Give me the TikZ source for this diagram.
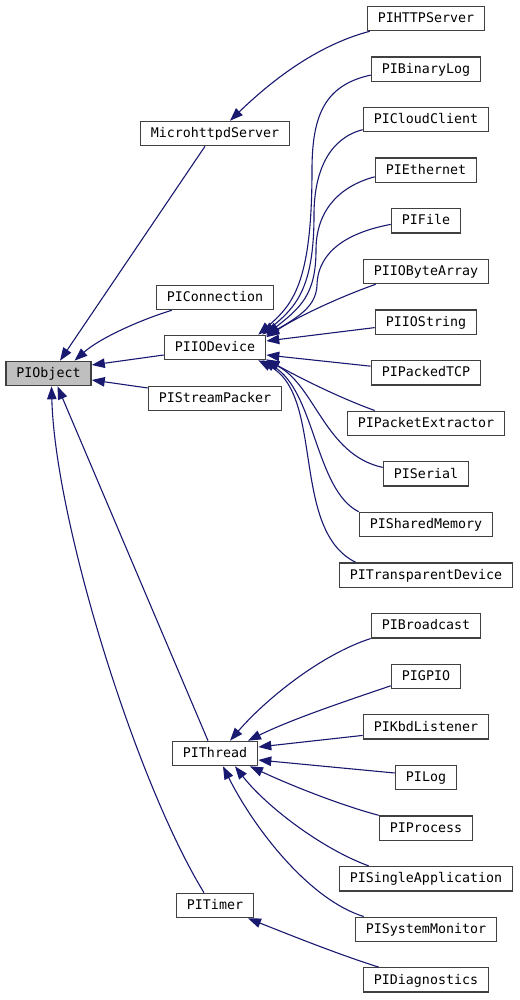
\documentclass[tikz,border=0pt]{standalone}
\usepackage{fontspec}
\setmonofont{DejaVu Sans Mono}
\usepackage{xcolor}
\definecolor{edgeblue}{HTML}{191970}
\definecolor{boxgray}{HTML}{404040}
\definecolor{objgray}{HTML}{BFBFBF}
\usepackage{tikz}
\usetikzlibrary{shapes,arrows.meta,positioning}

\begin{document}
\begin{tikzpicture}[
        x=1pt, y=-1pt,
        node distance=25pt,
        box/.style={rectangle, draw=boxgray, fill=white, line width=1.3pt, font=\ttfamily\fontsize{13.3}{16}\selectfont, minimum height=24.3pt, inner xsep=10.6pt, text height=9.7pt, text depth=1.5pt},
        arrow/.style={-{Triangle[length=13pt, width=9.5pt]}, draw=edgeblue, line width=1.1pt}
    ]
        \useasboundingbox (0,0) rectangle (519,1000);

        \node[box] (httpserver) at (426,18.5) {PIHTTPServer};
        \node[box, below=of httpserver] (binarylog) {PIBinaryLog};
        \node[box, below=of binarylog] (cloudclient) {PICloudClient};
        \node[box, below=of cloudclient] (ethernet) {PIEthernet};
        \node[box, below=of ethernet] (file) {PIFile};
        \node[box, below=of file] (iobytearray) {PIIOByteArray};
        \node[box, below=of iobytearray] (iostring) {PIIOString};
        \node[box, below=of iostring] (packedtcp) {PIPackedTCP};
        \node[box, below=of packedtcp] (packetextractor) {PIPacketExtractor};
        \node[box, below=of packetextractor] (serial) {PISerial};
        \node[box, below=of serial] (sharedmemory) {PISharedMemory};
        \node[box, below=of sharedmemory] (transparentdevice) {PITransparentDevice};
        \node[box, below=of transparentdevice] (broadcast) {PIBroadcast};
        \node[box, below=of broadcast] (gpio) {PIGPIO};
        \node[box, below=of gpio] (kbdlistener) {PIKbdListener};
        \node[box, below=of kbdlistener] (log) {PILog};
        \node[box, below=of log] (process) {PIProcess};
        \node[box, below=of process] (singleapp) {PISingleApplication};
        \node[box, below=of singleapp] (sysmonitor) {PISystemMonitor};
        \node[box, below=of sysmonitor] (diagnostics) {PIDiagnostics};

        \node[box] (microhttpd) at (215,133.5) {MicrohttpdServer};
        \node[box] (connection) at (215,297.5) {PIConnection};
        \node[box] (iodevice) at (215,347.5) {PIIODevice};
        \node[box] (streampacker) at (215,398.5) {PIStreamPacker};
        \node[box] (thread) at (215,753.5) {PIThread};
        \node[box] (timer) at (215,905.5) {PITimer};
        \node[box, fill=objgray] (object) at (48.5,373.5) {PIObject};

        \draw[arrow] ([xshift=3pt]httpserver.south west) .. controls (310,47) and (262,90) .. ([xshift=15pt]microhttpd.north);
        \draw[arrow] ([xshift=-10pt]microhttpd.south) -- ([xshift=11.5pt]object.north);
        \draw[arrow] ([xshift=16pt]connection.south west) .. controls (140,320) and (100,338) .. ([xshift=26pt]object.north);
        \draw[arrow] ([yshift=-7.5pt]iodevice.west) -- ([yshift=8.5pt]object.east);
        \draw[arrow] ([yshift=10.5pt]streampacker.west) -- ([yshift=-6.5pt]object.east);
        \draw[arrow] ([xshift=-7pt]thread.north) -- ([xshift=9pt]object.south);
        \draw[arrow] ([xshift=-11pt]timer.north) .. controls (135,780) and (55,520) .. ([xshift=3pt]object.south);

        \draw[arrow] ([yshift=-6pt]binarylog.west) .. controls (325,85) and (312,115) .. (312,170) .. controls (312,285) and (292,305) .. ([xshift=-8pt]iodevice.north east);
        \draw[arrow] ([yshift=-10pt]cloudclient.west) .. controls (330,138) and (314,170) .. (314,215) .. controls (314,288) and (296,307) .. ([xshift=-4pt]iodevice.north east);
        \draw[arrow] ([yshift=-6.5pt]ethernet.west) .. controls (340,186) and (316,210) .. (316,250) .. controls (316,295) and (300,308) .. (iodevice.north east);
        \draw[arrow] ([yshift=-3.5pt]file.west) .. controls (350,232) and (318,250) .. (317,285) .. controls (316,305) and (302,315) .. ([yshift=-1pt]iodevice.north east);
        \draw[arrow] ([xshift=13pt]iobytearray.south west) .. controls (345,295) and (300,315) .. ([yshift=-2.5pt]iodevice.north east);
        \draw[arrow] ([yshift=-5.5pt]iostring.west) -- ([yshift=6.5pt]iodevice.east);
        \draw[arrow] ([yshift=6.5pt]packedtcp.west) -- ([yshift=-7.5pt]iodevice.east);
        \draw[arrow] ([xshift=28pt]packetextractor.north west) .. controls (340,398) and (300,378) .. ([yshift=1pt]iodevice.south east);
        \draw[arrow] ([yshift=6.5pt]serial.west) .. controls (325,455) and (315,385) .. (iodevice.south east);
        \draw[arrow] (sharedmemory.north west) .. controls (315,490) and (315,390) .. ([xshift=-4pt]iodevice.south east);
        \draw[arrow] ([xshift=17pt]transparentdevice.north west) .. controls (290,530) and (325,395) .. ([xshift=-8pt]iodevice.south east);

        \draw[arrow] (broadcast.south west) .. controls (320,655) and (265,700) .. ([xshift=15pt]thread.north);
        \draw[arrow] ([yshift=-9.5pt]gpio.west) .. controls (340,703) and (290,720) .. ([xshift=33pt]thread.north);
        \draw[arrow] ([yshift=-8.5pt]kbdlistener.west) -- ([yshift=6.5pt]thread.east);
        \draw[arrow] ([yshift=4.5pt]log.west) -- ([yshift=-6.5pt]thread.east);
        \draw[arrow] (process.north west) .. controls (340,805) and (290,785) .. ([xshift=35pt]thread.south);
        \draw[arrow] ([xshift=30pt]singleapp.north west) .. controls (320,848) and (265,805) .. ([xshift=20pt]thread.south);
        \draw[arrow] ([xshift=9pt]sysmonitor.north west) .. controls (310,900) and (255,830) .. ([xshift=8pt]thread.south);
        \draw[arrow] ([xshift=16pt]diagnostics.north west) .. controls (340,955) and (290,935) .. ([xshift=33pt]timer.south);
    \end{tikzpicture}
\end{document}
